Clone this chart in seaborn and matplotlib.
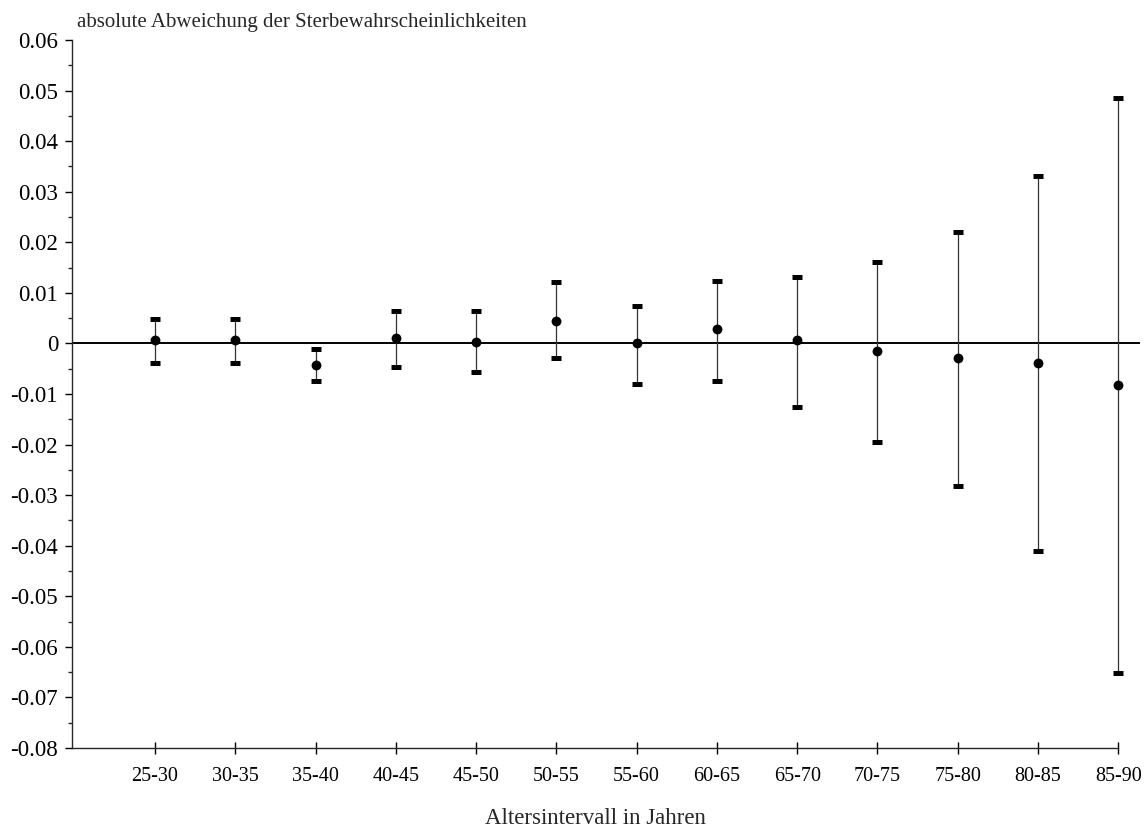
import numpy as np
import pandas as pd
import matplotlib
matplotlib.use("Agg")
import matplotlib.pyplot as plt
from matplotlib.ticker import MultipleLocator
import seaborn as sns

# Age intervals and the deviation of death probabilities with interval bounds
age_groups = ["25-30", "30-35", "35-40", "40-45", "45-50", "50-55", "55-60",
              "60-65", "65-70", "70-75", "75-80", "80-85", "85-90"]
deviation = [0.0007, 0.0007, -0.0042, 0.0011, 0.0003, 0.0045, 0.0000,
             0.0028, 0.0007, -0.0014, -0.0029, -0.0039, -0.0082]
upper_bound = [0.0048, 0.0048, -0.0011, 0.0064, 0.0064, 0.0121, 0.0075,
               0.0124, 0.0132, 0.0161, 0.0221, 0.0332, 0.0486]
lower_bound = [-0.0039, -0.0039, -0.0074, -0.0046, -0.0057, -0.0028, -0.0081,
               -0.0074, -0.0126, -0.0194, -0.0282, -0.0410, -0.0651]

df = pd.DataFrame({"Altersintervall": age_groups, "Abweichung": deviation})

sns.set_theme(style="ticks")
plt.rcParams["font.family"] = ["Liberation Serif", "DejaVu Serif"]

W, H = 1148, 831
fig = plt.figure(figsize=(W / 100, H / 100), dpi=100)
ax = fig.add_axes([72 / W, 1 - 748 / H, (1140 - 72) / W, (748 - 40) / H])

pos = np.arange(len(age_groups))
dev = np.asarray(deviation)
yerr = np.vstack([dev - np.asarray(lower_bound), np.asarray(upper_bound) - dev])

# zero reference line
ax.axhline(0, color="black", lw=1.4, zorder=1)

# interval whiskers (thin, slightly grey) with thick black caps
_, caps, bars = ax.errorbar(pos, dev, yerr=yerr, fmt="none", ecolor="black",
                            elinewidth=0.9, capsize=3.6, capthick=3.6, zorder=2)
for b in bars:
    b.set_color("#333333")

# point estimates
sns.scatterplot(data=df, x="Altersintervall", y="Abweichung", ax=ax,
                color="black", s=50, edgecolor="black", linewidth=0, zorder=3,
                legend=False)

ax.set_xlim(-1.034, 12.27)
ax.set_ylim(-0.08, 0.06)
ax.set_xticks(pos)
ax.set_xticklabels(age_groups, fontsize=14.5)
ax.yaxis.set_major_locator(MultipleLocator(0.01))
ax.yaxis.set_minor_locator(MultipleLocator(0.005))
ax.set_yticklabels([("%g" % v) if abs(v) > 1e-9 else "0" for v in ax.get_yticks()],
                   fontsize=16.5)
ax.set_xlabel("")
ax.set_ylabel("")

for s in ["top", "right"]:
    ax.spines[s].set_visible(False)
ax.spines["bottom"].set_bounds(-1.034, 12)
ax.spines["left"].set_linewidth(1.0)
ax.spines["bottom"].set_linewidth(1.0)

ax.tick_params(axis="x", direction="inout", length=8, width=1, pad=10, colors="black")
ax.tick_params(axis="y", which="major", direction="out", length=5, width=1, pad=5,
               colors="black")
ax.tick_params(axis="y", which="minor", direction="out", length=3, width=1)

fig.text(77 / W, 1 - 22 / H, "absolute Abweichung der Sterbewahrscheinlichkeiten",
         fontsize=15, ha="left", va="center")
fig.text(595 / W, 1 - 818 / H, "Altersintervall in Jahren",
         fontsize=16.5, ha="center", va="center")

fig.savefig("out.png", dpi=100, facecolor="white")
